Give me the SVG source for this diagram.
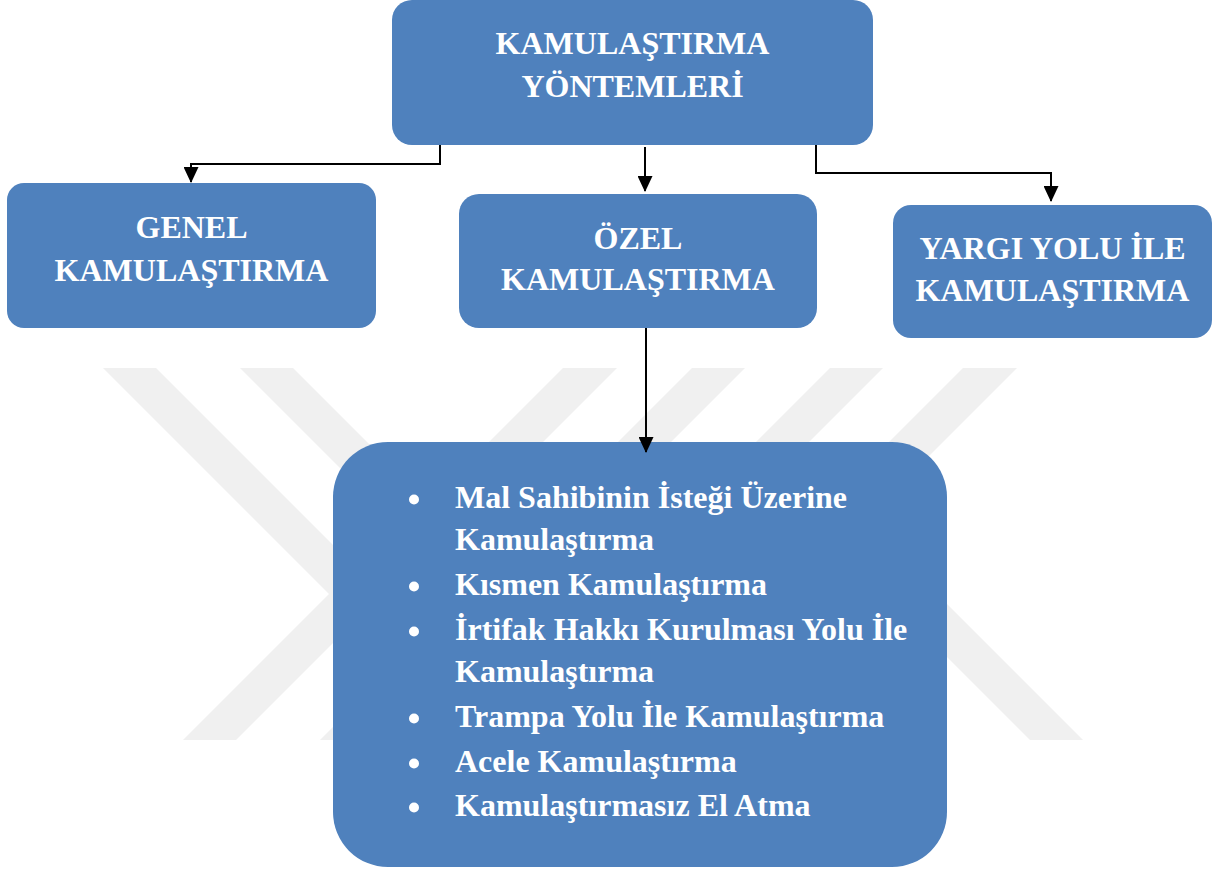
<svg xmlns="http://www.w3.org/2000/svg" width="1214" height="869" viewBox="0 0 1214 869">
  <defs>
    <style>
      .box { fill: #4f81bd; }
      .hdr { font-family: "Liberation Serif", "Times New Roman", serif; font-weight: bold; font-size: 32px; fill: #ffffff; text-anchor: middle; }
      .item { font-family: "Liberation Serif", "Times New Roman", serif; font-weight: bold; font-size: 32px; fill: #ffffff; }
      .bullet { fill: #ffffff; }
      .wm { fill: #f0f0f0; }
      .conn { fill: none; stroke: #000000; stroke-width: 2; }
    </style>
    <marker id="ah" markerWidth="16" markerHeight="15" refX="15" refY="7.5" orient="auto" markerUnits="userSpaceOnUse">
      <path d="M0,0 L16,7.5 L0,15 z" fill="#000000"/>
    </marker>
  </defs>

  <rect width="1214" height="869" fill="#ffffff"/>

  <g id="watermark">
    <polygon class="wm" points="103,368 156,368 382,594 236,740 183,740 329,594"/>
    <polygon class="wm" points="240,368 293,368 519,594 373,740 320,740 466,594"/>
    <polygon class="wm" points="563,368 617,368 485,500 431,500"/>
    <polygon class="wm" points="692,368 745,368 613,500 560,500"/>
    <polygon class="wm" points="830,368 883,368 751,500 698,500"/>
    <polygon class="wm" points="963,368 1017,368 885,500 831,500"/>
    <polygon class="wm" points="1030,740 1083,740 943,600 890,600"/>
  </g>

  <g id="node-root">
    <rect class="box" x="392" y="0" width="481" height="145" rx="20" ry="20"/>
    <text class="hdr" x="632.5" y="54">KAMULAŞTIRMA</text>
    <text class="hdr" x="632.5" y="97">YÖNTEMLERİ</text>
  </g>

  <g id="node-genel">
    <rect class="box" x="7" y="183" width="369" height="145" rx="17" ry="17"/>
    <text class="hdr" x="191.5" y="238">GENEL</text>
    <text class="hdr" x="191.5" y="281">KAMULAŞTIRMA</text>
  </g>

  <g id="node-ozel">
    <rect class="box" x="459" y="194" width="358" height="134" rx="20" ry="20"/>
    <text class="hdr" x="638" y="249">ÖZEL</text>
    <text class="hdr" x="638" y="290">KAMULAŞTIRMA</text>
  </g>

  <g id="node-yargi">
    <rect class="box" x="893" y="205" width="319" height="133" rx="18" ry="18"/>
    <text class="hdr" x="1052.5" y="259">YARGI YOLU İLE</text>
    <text class="hdr" x="1052.5" y="301">KAMULAŞTIRMA</text>
  </g>

  <g id="node-list">
    <rect class="box" x="333" y="442" width="614" height="425" rx="55" ry="55"/>
    <circle class="bullet" cx="414" cy="499.5" r="5"/>
    <text class="item" x="455" y="508">Mal Sahibinin İsteği Üzerine</text>
    <text class="item" x="455" y="550">Kamulaştırma</text>
    <circle class="bullet" cx="414" cy="586.5" r="5"/>
    <text class="item" x="455" y="595">Kısmen Kamulaştırma</text>
    <circle class="bullet" cx="414" cy="631.5" r="5"/>
    <text class="item" x="455" y="640">İrtifak Hakkı Kurulması Yolu İle</text>
    <text class="item" x="455" y="682">Kamulaştırma</text>
    <circle class="bullet" cx="414" cy="718.5" r="5"/>
    <text class="item" x="455" y="727">Trampa Yolu İle Kamulaştırma</text>
    <circle class="bullet" cx="414" cy="763.5" r="5"/>
    <text class="item" x="455" y="772">Acele Kamulaştırma</text>
    <circle class="bullet" cx="414" cy="807.5" r="5"/>
    <text class="item" x="455" y="816">Kamulaştırmasız El Atma</text>
  </g>

  <g id="connectors">
    <path class="conn" d="M440,145 V164 H191 V182" marker-end="url(#ah)"/>
    <path class="conn" d="M645,147 V191" marker-end="url(#ah)"/>
    <path class="conn" d="M816,145 V173 H1051 V201" marker-end="url(#ah)"/>
    <path class="conn" d="M646,328 V452" marker-end="url(#ah)"/>
  </g>
</svg>
